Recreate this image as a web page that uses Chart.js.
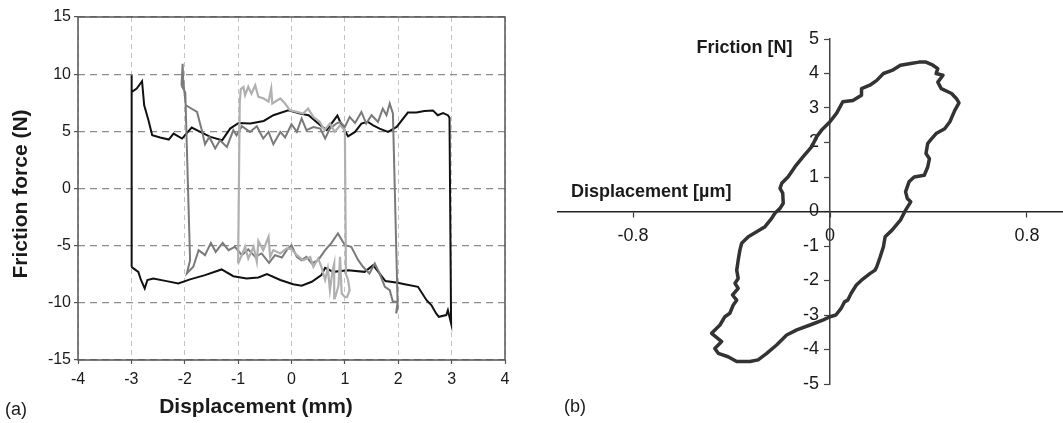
<!DOCTYPE html>
<html>
<head>
<meta charset="utf-8">
<script src="https://cdn.jsdelivr.net/npm/chart.js@4.4.1/dist/chart.umd.min.js"></script>
<style>
  html, body { margin: 0; padding: 0; background: #ffffff; }
  #wrap { position: relative; width: 1063px; height: 423px; overflow: hidden; background: #fff; }
  canvas { position: absolute; top: 0; }
  #ca { left: 0; }
  #cb { left: 530px; }
</style>
</head>
<body>
<div id="wrap">
  <canvas id="ca" width="530" height="423"></canvas>
  <canvas id="cb" width="572" height="423"></canvas>
</div>
<script>
// ---------------- Panel (a) data ----------------
const aXTicks = [-4, -3, -2, -1, 0, 1, 2, 3, 4];
const aYTicks = [-15, -10, -5, 0, 5, 10, 15];
const aXTitle = 'Displacement (mm)';
const aYTitle = 'Friction force (N)';
const aLabel = '(a)';

// +/-3 mm loop (black)
const blackX = [-3.00, -3.00, -2.99, -2.90, -2.80, -2.76, -2.68, -2.61, -2.46, -2.30, -2.21, -2.05, -1.87, -1.71, -1.52, -1.30, -1.15, -0.99, -0.77, -0.52, -0.34, -0.06, 0.16, 0.32, 0.54, 0.66, 0.86, 0.94, 1.06, 1.19, 1.31, 1.43, 1.53, 1.65, 1.81, 1.97, 2.18, 2.34, 2.49, 2.65, 2.74, 2.84, 2.93, 2.96, 2.99, 2.93, 2.90, 2.76, 2.71, 2.62, 2.53, 2.37, 2.12, 1.99, 1.76, 1.53, 1.37, 1.06, 0.78, 0.63, 0.56, 0.38, 0.19, 0.03, -0.21, -0.46, -0.62, -0.84, -1.09, -1.31, -1.62, -1.90, -2.12, -2.34, -2.59, -2.70, -2.75, -2.82, -2.87, -3.00];
const blackY = [-6.85, 9.90, 8.44, 8.74, 9.38, 7.28, 5.97, 4.66, 4.46, 4.28, 4.80, 4.37, 5.33, 4.95, 4.51, 4.22, 5.24, 5.73, 5.68, 5.91, 6.41, 6.84, 6.55, 6.41, 5.53, 5.10, 6.38, 5.53, 4.57, 4.95, 5.68, 5.83, 5.53, 5.24, 4.95, 5.38, 6.64, 6.64, 6.78, 6.83, 6.41, 6.60, 6.41, 6.20, -11.80, -10.64, -11.07, -11.22, -10.93, -10.20, -9.77, -8.60, -8.37, -8.25, -8.10, -6.70, -7.29, -7.14, -7.29, -6.94, -7.58, -8.16, -8.51, -8.37, -8.00, -7.49, -7.78, -7.87, -7.67, -7.08, -7.58, -7.95, -8.30, -8.10, -7.87, -8.00, -8.74, -8.00, -7.29, -6.85];

// +/-2 mm loop (dark grey)
const darkX = [-2.06, -2.04, -2.03, -1.98, -1.77, -1.68, -1.62, -1.54, -1.43, -1.34, -1.21, -1.09, -1.03, -0.93, -0.78, -0.65, -0.53, -0.43, -0.34, -0.21, -0.12, 0.00, 0.10, 0.19, 0.28, 0.41, 0.54, 0.63, 0.72, 0.84, 0.91, 1.00, 1.09, 1.19, 1.31, 1.40, 1.50, 1.62, 1.71, 1.78, 1.84, 1.90, 1.99, 1.96, 1.99, 1.90, 1.84, 1.75, 1.65, 1.56, 1.46, 1.34, 1.25, 1.12, 1.00, 0.87, 0.75, 0.63, 0.50, 0.38, 0.28, 0.19, 0.10, 0.00, -0.09, -0.18, -0.31, -0.42, -0.56, -0.68, -0.81, -0.93, -1.06, -1.18, -1.29, -1.42, -1.51, -1.62, -1.74, -1.84, -1.96, -1.90, -1.99, -2.06];
const darkY = [9.00, 10.90, 9.50, 7.28, 6.70, 5.10, 3.87, 4.51, 3.50, 4.22, 3.64, 5.10, 4.66, 5.45, 4.95, 5.45, 4.37, 4.95, 3.87, 4.95, 4.46, 5.62, 4.95, 6.12, 5.10, 5.38, 5.24, 4.37, 5.24, 5.68, 5.83, 5.38, 6.26, 5.73, 6.70, 5.68, 6.41, 5.83, 6.99, 6.41, 7.43, 6.56, -10.40, -10.93, -9.90, -9.91, -8.89, -8.60, -7.43, -6.56, -7.43, -6.85, -6.27, -5.10, -4.96, -3.93, -4.76, -5.39, -6.27, -6.56, -5.98, -6.27, -5.98, -4.96, -5.39, -6.04, -5.83, -6.50, -5.68, -5.98, -5.33, -5.83, -5.10, -5.39, -4.76, -5.54, -4.76, -5.83, -5.39, -6.85, -7.43, -6.27, 8.40, 9.00];

// +/-1 mm loop (light grey)
const lightX = [-1.00, -0.97, -0.95, -0.90, -0.87, -0.81, -0.75, -0.68, -0.62, -0.52, -0.43, -0.38, -0.36, -0.21, -0.12, -0.03, 0.10, 0.22, 0.31, 0.41, 0.53, 0.62, 0.72, 0.81, 0.91, 1.00, 1.02, 1.06, 1.09, 1.04, 1.00, 0.94, 0.91, 0.88, 0.84, 0.81, 0.80, 0.77, 0.72, 0.68, 0.63, 0.56, 0.50, 0.41, 0.35, 0.22, 0.10, 0.00, -0.09, -0.21, -0.34, -0.40, -0.43, -0.53, -0.62, -0.65, -0.71, -0.81, -0.87, -0.93, -1.00];
const lightY = [-6.56, 7.50, 8.70, 8.88, 8.16, 8.90, 8.30, 9.03, 8.01, 7.87, 7.60, 8.74, 7.43, 7.87, 7.43, 6.84, 6.70, 6.55, 6.99, 6.26, 5.82, 5.10, 5.68, 4.95, 5.53, 5.10, -7.50, -8.00, -8.90, -9.50, -9.48, -9.18, -5.98, -8.50, -9.18, -9.62, -6.56, -7.14, -8.89, -7.00, -8.00, -6.85, -6.12, -6.85, -6.00, -6.27, -5.83, -5.30, -5.24, -5.68, -5.39, -5.98, -4.23, -5.40, -4.58, -6.41, -5.10, -6.12, -5.10, -5.83, -6.56];

// ---------------- Panel (b) data ----------------
const bXTicks = [-0.8, 0, 0.8];
const bYTicks = [-5, -4, -3, -2, -1, 0, 1, 2, 3, 4, 5];
const bXTitle = 'Displacement [\u00b5m]';
const bYTitle = 'Friction [N]';
const bLabel = '(b)';

const loopX = [0.000, -0.027, -0.081, -0.135, -0.176, -0.217, -0.257, -0.292, -0.325, -0.379, -0.414, -0.454, -0.468, -0.440, -0.481, -0.447, -0.427, -0.407, -0.393, -0.379, -0.396, -0.373, -0.386, -0.373, -0.379, -0.373, -0.366, -0.359, -0.332, -0.298, -0.264, -0.237, -0.224, -0.203, -0.190, -0.192, -0.203, -0.196, -0.170, -0.142, -0.109, -0.074, -0.054, -0.034, 0.000, 0.027, 0.052, 0.093, 0.128, 0.128, 0.162, 0.190, 0.217, 0.252, 0.286, 0.328, 0.362, 0.390, 0.418, 0.438, 0.431, 0.459, 0.438, 0.452, 0.494, 0.514, 0.524, 0.507, 0.487, 0.466, 0.431, 0.408, 0.397, 0.390, 0.404, 0.397, 0.383, 0.342, 0.321, 0.307, 0.314, 0.328, 0.307, 0.286, 0.252, 0.224, 0.217, 0.204, 0.190, 0.183, 0.162, 0.128, 0.107, 0.086, 0.072, 0.059, 0.045, 0.024, 0.000];
const loopY = [-3.05, -3.14, -3.29, -3.43, -3.58, -3.87, -4.11, -4.30, -4.35, -4.35, -4.21, -4.11, -3.97, -3.77, -3.53, -3.29, -3.05, -2.95, -2.71, -2.57, -2.42, -2.23, -2.08, -1.94, -1.70, -1.41, -1.12, -0.92, -0.73, -0.59, -0.44, -0.20, -0.05, 0.09, 0.24, 0.53, 0.67, 0.82, 1.01, 1.30, 1.59, 1.88, 2.17, 2.36, 2.60, 2.85, 3.18, 3.22, 3.37, 3.56, 3.66, 3.80, 4.00, 4.09, 4.24, 4.29, 4.33, 4.33, 4.24, 4.14, 4.00, 3.95, 3.75, 3.56, 3.42, 3.27, 3.15, 2.93, 2.60, 2.40, 2.26, 2.07, 1.97, 1.68, 1.53, 1.29, 1.05, 1.00, 0.86, 0.57, 0.38, 0.28, 0.04, -0.25, -0.54, -0.73, -1.02, -1.31, -1.60, -1.70, -1.80, -1.99, -2.13, -2.37, -2.57, -2.62, -2.81, -3.00, -3.05];

// ---------------- helpers ----------------
const FONT = "'Liberation Sans', Arial, Helvetica, sans-serif";
Chart.defaults.font.family = FONT;
const toPts = (xs, ys) => xs.map((x, i) => ({ x: x, y: ys[i] }));
const zeroPad = (s) => { s.paddingLeft = 0; s.paddingRight = 0; s.paddingTop = 0; s.paddingBottom = 0; };

// ---------------- Chart (a) ----------------
const frameA = {
  id: 'frameA',
  beforeDatasetsDraw(chart) {
    const a = chart.chartArea, ctx = chart.ctx;
    ctx.save();
    ctx.strokeStyle = '#555555';
    ctx.lineWidth = 1.5;
    ctx.strokeRect(a.left, a.top, a.right - a.left, a.bottom - a.top);
    ctx.restore();
  },
  afterDraw(chart) {
    const ctx = chart.ctx;
    ctx.save();
    ctx.fillStyle = '#1a1a1a';
    ctx.textAlign = 'center';
    ctx.textBaseline = 'middle';
    ctx.font = 'bold 21px ' + FONT;
    ctx.fillText(aXTitle, 256, 407);
    ctx.save();
    ctx.translate(21, 194);
    ctx.rotate(-Math.PI / 2);
    ctx.fillText(aYTitle, 0, 0);
    ctx.restore();
    ctx.font = '18px ' + FONT;
    ctx.textAlign = 'left';
    ctx.fillText(aLabel, 5, 410);
    ctx.restore();
  }
};

new Chart(document.getElementById('ca'), {
  type: 'scatter',
  data: {
    datasets: [
      { label: '1 mm', data: toPts(lightX, lightY), showLine: true, borderColor: '#b0b0b0', borderWidth: 2.2, pointRadius: 0, order: 0 },
      { label: '2 mm', data: toPts(darkX, darkY), showLine: true, borderColor: '#7a7a7a', borderWidth: 2, pointRadius: 0, order: 1 },
      { label: '3 mm', data: toPts(blackX, blackY), showLine: true, borderColor: '#111111', borderWidth: 2, pointRadius: 0, order: 2 }
    ]
  },
  options: {
    responsive: false,
    animation: false,
    devicePixelRatio: 1,
    layout: { padding: { left: 0, top: 17, right: 25, bottom: 0 } },
    plugins: { legend: { display: false }, tooltip: { enabled: false } },
    scales: {
      x: {
        type: 'linear', min: -4, max: 4,
        afterBuildTicks: (s) => { s.ticks = aXTicks.map(v => ({ value: v })); },
        afterFit: (s) => { s.height = 63; zeroPad(s); },
        grid: { color: '#c4c4c4', lineWidth: 1, drawTicks: true, tickLength: 4, tickColor: '#555', tickWidth: 1.2, tickBorderDash: [] },
        border: { display: false, dash: [5, 4] },
        ticks: { color: '#1a1a1a', font: { size: 16 }, padding: 6, maxRotation: 0, callback: (v) => String(v) }
      },
      y: {
        type: 'linear', min: -15, max: 15,
        afterBuildTicks: (s) => { s.ticks = aYTicks.map(v => ({ value: v })); },
        afterFit: (s) => { s.width = 78; zeroPad(s); },
        grid: { color: '#8c8c8c', lineWidth: 1.2, drawTicks: true, tickLength: 4, tickColor: '#555', tickWidth: 1.2, tickBorderDash: [] },
        border: { display: false, dash: [7, 5] },
        ticks: { color: '#1a1a1a', font: { size: 16 }, padding: 3, callback: (v) => String(v) }
      }
    }
  },
  plugins: [frameA]
});

// ---------------- Chart (b) ----------------
const titlesB = {
  id: 'titlesB',
  afterDraw(chart) {
    const ctx = chart.ctx;
    const x0 = chart.scales.x.getPixelForValue(0);
    ctx.save();
    ctx.fillStyle = '#1a1a1a';
    ctx.textBaseline = 'middle';
    ctx.font = 'bold 18px ' + FONT;
    ctx.textAlign = 'right';
    ctx.fillText(bYTitle, x0 - 37.5, chart.scales.y.getPixelForValue(4.75));
    ctx.textAlign = 'left';
    ctx.fillText(bXTitle, 41, chart.scales.y.getPixelForValue(0.57));
    ctx.font = '18px ' + FONT;
    ctx.fillText(bLabel, 34, 407);
    ctx.restore();
  }
};

new Chart(document.getElementById('cb'), {
  type: 'scatter',
  data: {
    datasets: [
      { label: 'loop', data: toPts(loopX, loopY), showLine: true, borderColor: '#333333', borderWidth: 3.5, pointRadius: 0, borderJoinStyle: 'round' }
    ]
  },
  options: {
    responsive: false,
    animation: false,
    devicePixelRatio: 1,
    layout: { padding: { left: 28, top: 39, right: 0, bottom: 39 } },
    plugins: { legend: { display: false }, tooltip: { enabled: false } },
    scales: {
      x: {
        type: 'linear', min: -1.105, max: 1.105,
        position: { y: 0 },
        afterBuildTicks: (s) => { s.ticks = bXTicks.map(v => ({ value: v })); },
        afterFit: (s) => { zeroPad(s); },
        grid: { drawOnChartArea: false, drawTicks: true, tickLength: 5, tickColor: '#333', tickWidth: 1.2 },
        border: { display: true, color: '#222', width: 1.5 },
        ticks: { color: '#1a1a1a', font: { size: 18 }, padding: 9, maxRotation: 0, callback: (v) => String(v) }
      },
      y: {
        type: 'linear', min: -5, max: 5,
        position: 'center',
        afterBuildTicks: (s) => { s.ticks = bYTicks.map(v => ({ value: v })); },
        afterFit: (s) => { zeroPad(s); },
        grid: { drawOnChartArea: false, drawTicks: true, tickLength: 5, tickColor: '#444', tickWidth: 1.2 },
        border: { display: true, color: '#444', width: 1.5 },
        ticks: { color: '#1a1a1a', font: { size: 18 }, padding: 6, callback: (v) => String(v) }
      }
    }
  },
  plugins: [titlesB]
});
</script>
</body>
</html>
